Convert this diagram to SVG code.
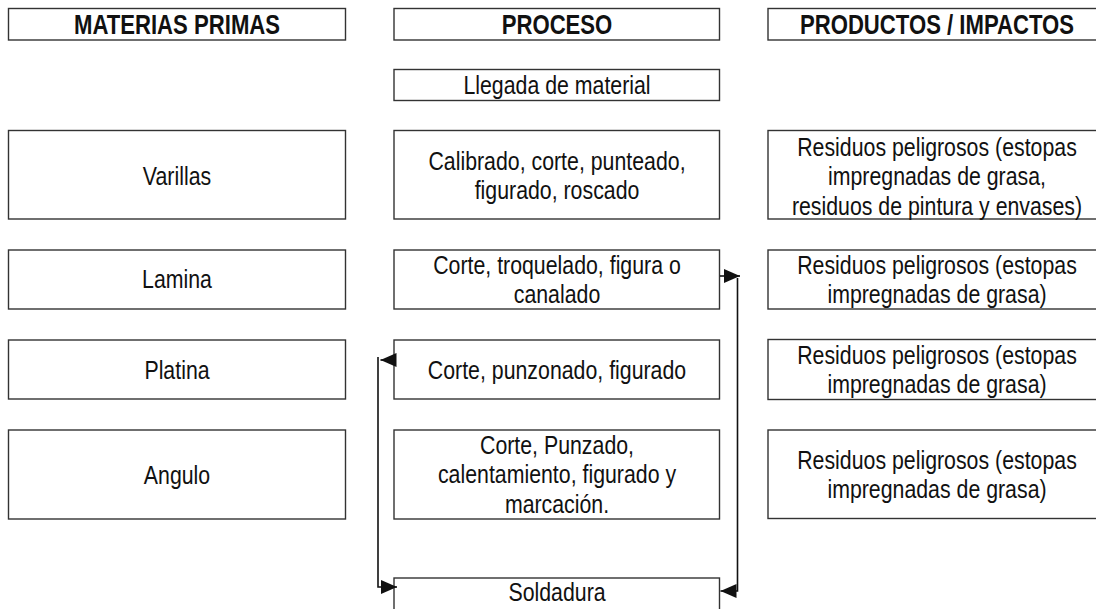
<svg xmlns="http://www.w3.org/2000/svg" width="1096" height="609" viewBox="0 0 1096 609">
<style>
.box{fill:#fff;stroke:#333;stroke-width:1.4}
text{font-family:"Liberation Sans",Arial,sans-serif;font-size:26px;fill:#111;text-anchor:middle}
.hd{font-weight:bold;font-size:27px}
.conn{fill:none;stroke:#111;stroke-width:1.6}
</style>
<defs>
<marker id="arr" markerUnits="userSpaceOnUse" markerWidth="17" markerHeight="15" refX="16" refY="7" orient="auto">
<path d="M0,0 L16,7 L0,14 z" fill="#111"/>
</marker>
</defs>
<rect width="1096" height="609" fill="#fff"/>
<g id="h-materias"><rect class="box" x="8.5" y="8.5" width="337" height="31.5"/><text class="hd" transform="matrix(0.82 0 0 1 177 0)" x="0" y="34.5">MATERIAS PRIMAS</text></g>
<g id="h-proceso"><rect class="box" x="394" y="8.5" width="325.5" height="31.5"/><text class="hd" transform="matrix(0.82 0 0 1 557 0)" x="0" y="34.5">PROCESO</text></g>
<g id="h-productos"><rect class="box" x="768" y="8.5" width="340" height="31.5"/><text class="hd" transform="matrix(0.82 0 0 1 937 0)" x="0" y="34.5">PRODUCTOS / IMPACTOS</text></g>
<g id="llegada"><rect class="box" x="394" y="69.5" width="325.5" height="31"/><text transform="matrix(0.82 0 0 1 557 0)" x="0" y="94.5">Llegada de material</text></g>
<g id="varillas"><rect class="box" x="8.5" y="130.5" width="337" height="88.5"/><text transform="matrix(0.82 0 0 1 177 0)" x="0" y="185">Varillas</text></g>
<g id="calibrado"><rect class="box" x="394" y="130.5" width="325.5" height="88.5"/><text transform="matrix(0.82 0 0 1 557 0)" x="0" y="170">Calibrado, corte, punteado,</text><text transform="matrix(0.82 0 0 1 557 0)" x="0" y="199.5">figurado, roscado</text></g>
<g id="residuos1"><rect class="box" x="768" y="130.5" width="340" height="88.5"/><text transform="matrix(0.82 0 0 1 937 0)" x="0" y="156">Residuos peligrosos (estopas</text><text transform="matrix(0.82 0 0 1 937 0)" x="0" y="185.5">impregnadas de grasa,</text><text transform="matrix(0.82 0 0 1 937 0)" x="0" y="215">residuos de pintura y envases)</text></g>
<g id="lamina"><rect class="box" x="8.5" y="250" width="337" height="59"/><text transform="matrix(0.82 0 0 1 177 0)" x="0" y="288.5">Lamina</text></g>
<g id="corte1"><rect class="box" x="394" y="250" width="325.5" height="59"/><text transform="matrix(0.82 0 0 1 557 0)" x="0" y="274">Corte, troquelado, figura o</text><text transform="matrix(0.82 0 0 1 557 0)" x="0" y="303">canalado</text></g>
<g id="residuos2"><rect class="box" x="768" y="250" width="340" height="59"/><text transform="matrix(0.82 0 0 1 937 0)" x="0" y="274">Residuos peligrosos (estopas</text><text transform="matrix(0.82 0 0 1 937 0)" x="0" y="303">impregnadas de grasa)</text></g>
<g id="platina"><rect class="box" x="8.5" y="340" width="337" height="59"/><text transform="matrix(0.82 0 0 1 177 0)" x="0" y="379">Platina</text></g>
<g id="corte2"><rect class="box" x="394" y="340" width="325.5" height="59"/><text transform="matrix(0.82 0 0 1 557 0)" x="0" y="379">Corte, punzonado, figurado</text></g>
<g id="residuos3"><rect class="box" x="768" y="339.5" width="340" height="60"/><text transform="matrix(0.82 0 0 1 937 0)" x="0" y="364">Residuos peligrosos (estopas</text><text transform="matrix(0.82 0 0 1 937 0)" x="0" y="393">impregnadas de grasa)</text></g>
<g id="angulo"><rect class="box" x="8.5" y="430" width="337" height="89"/><text transform="matrix(0.82 0 0 1 177 0)" x="0" y="484">Angulo</text></g>
<g id="corte3"><rect class="box" x="394" y="430" width="325.5" height="89"/><text transform="matrix(0.82 0 0 1 557 0)" x="0" y="454">Corte, Punzado,</text><text transform="matrix(0.82 0 0 1 557 0)" x="0" y="483.5">calentamiento, figurado y</text><text transform="matrix(0.82 0 0 1 557 0)" x="0" y="513">marcación.</text></g>
<g id="residuos4"><rect class="box" x="768" y="430" width="340" height="88.5"/><text transform="matrix(0.82 0 0 1 937 0)" x="0" y="469">Residuos peligrosos (estopas</text><text transform="matrix(0.82 0 0 1 937 0)" x="0" y="498">impregnadas de grasa)</text></g>
<g id="soldadura"><rect class="box" x="394" y="578" width="325.5" height="40"/><text transform="matrix(0.82 0 0 1 557 0)" x="0" y="601.5">Soldadura</text></g>
<g id="connectors">
<path class="conn" d="M720,276 H740" marker-end="url(#arr)"/>
<path class="conn" d="M737.5,278 V591 H720.5" marker-end="url(#arr)"/>
<path class="conn" d="M394,360 H380.5" marker-end="url(#arr)"/>
<path class="conn" d="M378,357 V587 H397" marker-end="url(#arr)"/>
</g>
</svg>
